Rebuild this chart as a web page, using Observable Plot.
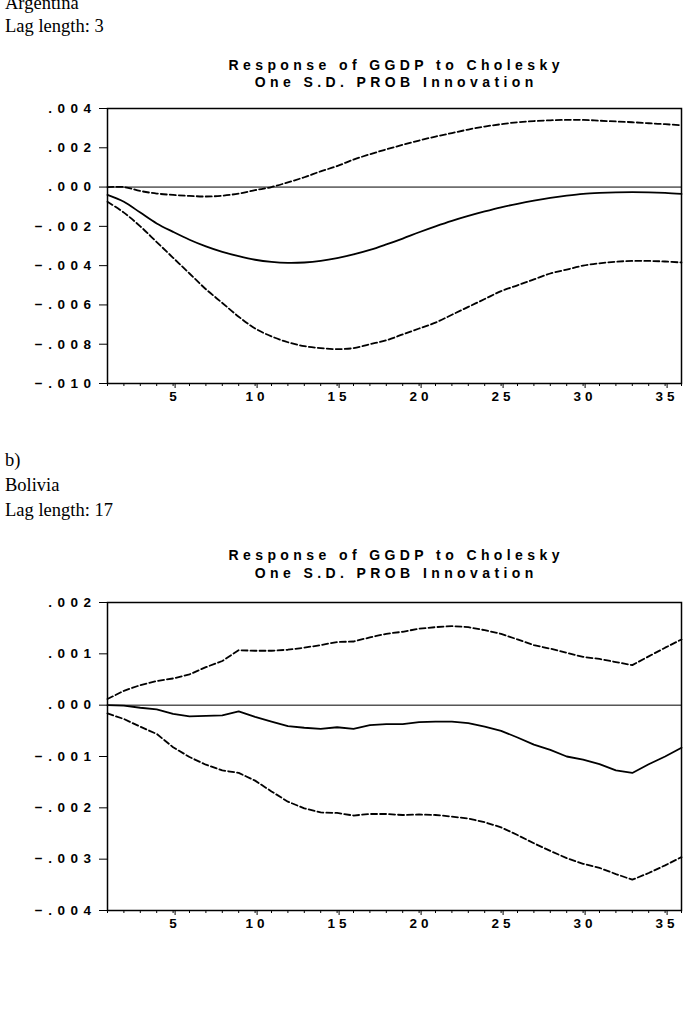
<!DOCTYPE html>
<html>
<head>
<meta charset="utf-8">
<script src="https://cdn.jsdelivr.net/npm/d3@7"></script>
<script src="https://cdn.jsdelivr.net/npm/@observablehq/plot@0.6"></script>
<style>
  html, body { margin: 0; padding: 0; background: #fff; }
  #page { position: relative; width: 694px; height: 1019px; overflow: hidden; background: #fff; }
  .note { position: absolute; left: 5px; font-family: "Liberation Serif", "Times New Roman", serif; font-size: 18.5px; line-height: 18.5px; color: #000; white-space: nowrap; }
  .title { position: absolute; left: 107px; width: 574px; text-align: center; font-family: "Liberation Sans", Arial, sans-serif; font-size: 14px; line-height: 14px; font-weight: bold; letter-spacing: 4.4px; padding-left: 4.4px; box-sizing: border-box; color: #000; white-space: nowrap; }
  .chart { position: absolute; left: 0; }
  .chart svg [aria-label="y-axis tick label"] text { letter-spacing: 5.5px; }
  .chart svg [aria-label="x-axis tick label"] text { letter-spacing: 4px; }
</style>
</head>
<body>
<div id="page">
  <div class="note" style="top:-6px">Argentina</div>
  <div class="note" style="top:17px">Lag length: 3</div>
  <div class="title" style="top:58px">Response of GGDP to Cholesky</div>
  <div class="title" style="top:75px">One S.D. PROB Innovation</div>
  <div class="chart" id="c1" style="top:98px"></div>

  <div class="note" style="top:451px">b)</div>
  <div class="note" style="top:476px">Bolivia</div>
  <div class="note" style="top:501px">Lag length: 17</div>
  <div class="title" style="top:548px">Response of GGDP to Cholesky</div>
  <div class="title" style="top:566px">One S.D. PROB Innovation</div>
  <div class="chart" id="c2" style="top:592px"></div>
</div>
<script>
// Periods (horizon)
const periods = d3.range(1, 37);
const xLabelTicks = [5, 10, 15, 20, 25, 30, 35];

// a) Argentina — response and ±2 S.E. bands
const argResponse = [-0.0004, -0.00075, -0.0013, -0.00185, -0.00228, -0.00268, -0.00302, -0.0033, -0.00352, -0.0037,
  -0.00381, -0.00386, -0.00384, -0.00376, -0.00362, -0.00343, -0.0032, -0.00292, -0.00262, -0.0023,
  -0.002, -0.00172, -0.00147, -0.00124, -0.00103, -0.00085, -0.00069, -0.00055, -0.00044, -0.00035,
  -0.0003, -0.00027, -0.00026, -0.00027, -0.0003, -0.00035];
const argUpper = [0, 0, -0.0002, -0.00033, -0.0004, -0.00045, -0.00048, -0.00044, -0.00033, -0.00016,
  0.0, 0.00024, 0.0005, 0.0008, 0.00107, 0.0014, 0.00167, 0.00192, 0.00215, 0.00237,
  0.00257, 0.00275, 0.00293, 0.00308, 0.0032, 0.0033, 0.00336, 0.0034, 0.00342, 0.00342,
  0.00338, 0.00334, 0.0033, 0.00325, 0.0032, 0.00315];
const argLower = [-0.00075, -0.0013, -0.002, -0.0028, -0.0036, -0.0044, -0.0052, -0.0059, -0.0066, -0.0072,
  -0.0076, -0.0079, -0.0081, -0.0082, -0.00825, -0.0082, -0.008, -0.0078, -0.0075, -0.0072,
  -0.0069, -0.0065, -0.0061, -0.0057, -0.0053, -0.005, -0.0047, -0.0044, -0.0042, -0.004,
  -0.00388, -0.0038, -0.00376, -0.00376, -0.00379, -0.00384];
const argYTicks = [0.004, 0.002, 0, -0.002, -0.004, -0.006, -0.008, -0.010];

// b) Bolivia — response and ±2 S.E. bands
const bolResponse = [0, -0.00001, -0.00005, -0.00008, -0.00017, -0.00022, -0.00021, -0.0002, -0.00012, -0.00023,
  -0.00032, -0.00041, -0.00044, -0.00046, -0.00043, -0.00046, -0.00039, -0.00037, -0.00037, -0.00033,
  -0.00032, -0.00032, -0.00035, -0.00042, -0.0005, -0.00063, -0.00077, -0.00087, -0.001, -0.00106,
  -0.00115, -0.00127, -0.00132, -0.00115, -0.001, -0.00083];
const bolUpper = [0.00012, 0.00028, 0.00039, 0.00047, 0.00052, 0.0006, 0.00074, 0.00086, 0.00107, 0.00106,
  0.00106, 0.00108, 0.00112, 0.00117, 0.00123, 0.00124, 0.00132, 0.00139, 0.00143, 0.00149,
  0.00152, 0.00154, 0.00152, 0.00146, 0.00139, 0.00128, 0.00117, 0.0011, 0.00102, 0.00094,
  0.0009, 0.00084, 0.00078, 0.00095, 0.00112, 0.00128];
const bolLower = [-0.00016, -0.00027, -0.00042, -0.00056, -0.00082, -0.00101, -0.00116, -0.00127, -0.00132, -0.00147,
  -0.00168, -0.00188, -0.00201, -0.00209, -0.0021, -0.00215, -0.00212, -0.00212, -0.00214, -0.00213,
  -0.00214, -0.00217, -0.00221, -0.00228, -0.00238, -0.00253, -0.00269, -0.00284, -0.00298, -0.00309,
  -0.00317, -0.00329, -0.0034, -0.00327, -0.00312, -0.00296];
const bolYTicks = [0.002, 0.001, 0, -0.001, -0.002, -0.003, -0.004];

const fmtY = d => d3.format(".3f")(d).replace("0.", ".");

function irfChart({resp, up, lo, yTicks, height, curve}) {
  const rows = periods.map((p, i) => ({p, resp: resp[i], up: up[i], lo: lo[i]}));
  const yDomain = [d3.min(yTicks), d3.max(yTicks)];
  return Plot.plot({
    width: 694,
    height,
    marginLeft: 107,
    marginRight: 13,
    marginTop: 10,
    marginBottom: 32,
    x: {domain: [1, 36], label: null},
    y: {domain: yDomain, label: null},
    style: {fontFamily: "'Liberation Sans', Arial, sans-serif", fontSize: "13.5px", color: "#000", background: "#fff", overflow: "visible"},
    marks: [
      Plot.ruleY([0], {stroke: "#000", strokeWidth: 1}),
      Plot.lineY(rows, {x: "p", y: "up", stroke: "#000", strokeWidth: 1.8, strokeDasharray: "6,3", curve}),
      Plot.lineY(rows, {x: "p", y: "lo", stroke: "#000", strokeWidth: 1.8, strokeDasharray: "6,3", curve}),
      Plot.lineY(rows, {x: "p", y: "resp", stroke: "#000", strokeWidth: 1.8, curve}),
      Plot.axisX({ticks: periods, tickSize: 3, tickFormat: () => "", label: null, strokeWidth: 1}),
      Plot.axisX({ticks: xLabelTicks, tickSize: 5, tickPadding: 3, dx: 2, fontSize: "13.5px", fontWeight: "bold", tickFormat: d => String(d), label: null, strokeWidth: 1}),
      Plot.axisY({ticks: yTicks, tickSize: 8, tickPadding: 3, fontSize: "13.5px", fontWeight: "bold", tickFormat: fmtY, label: null, strokeWidth: 1}),
      Plot.frame({stroke: "#000", strokeWidth: 1.5})
    ]
  });
}

document.getElementById("c1").append(irfChart({resp: argResponse, up: argUpper, lo: argLower, yTicks: argYTicks, height: 317, curve: "catmull-rom"}));
document.getElementById("c2").append(irfChart({resp: bolResponse, up: bolUpper, lo: bolLower, yTicks: bolYTicks, height: 350, curve: "linear"}));
</script>
</body>
</html>
